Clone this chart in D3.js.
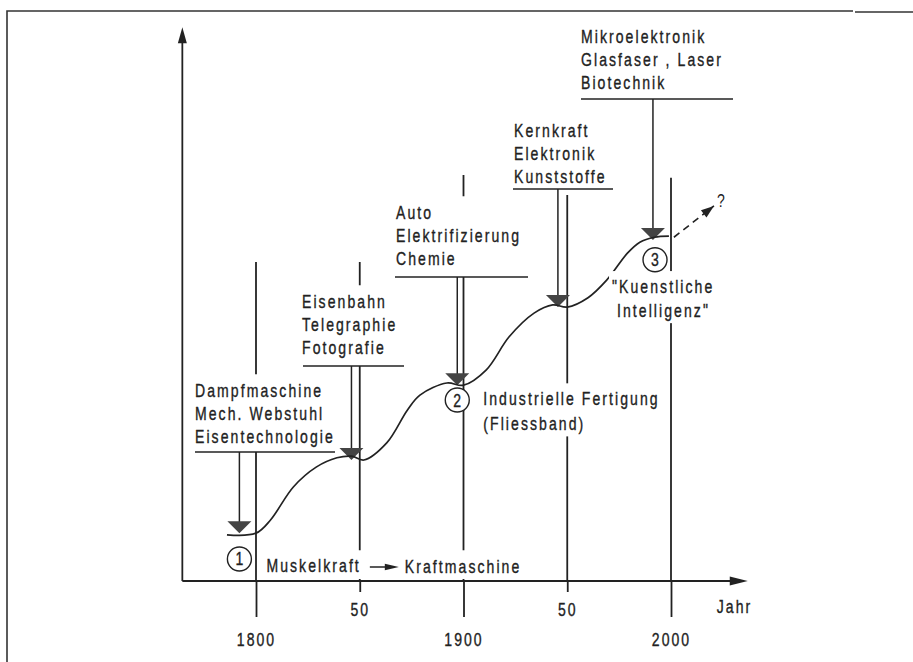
<!DOCTYPE html>
<html>
<head>
<meta charset="utf-8">
<script src="https://cdn.jsdelivr.net/npm/d3@7"></script>
<style>
  body { margin: 0; background: #fff; }
  text { font-family: 'Liberation Sans', Arial, sans-serif; font-size: 18px; letter-spacing: 2.65px; fill: #222; stroke: #222; stroke-width: 0.35px; }
</style>
</head>
<body>
<div id="chart"></div>
<script>
// ---- data ----
// the wave of technical development (year, level 0..100)
const curveYears  = [1786, 1800, 1807, 1818, 1829, 1839, 1846, 1852, 1863, 1873, 1879, 1892, 1900, 1911, 1922, 1934, 1943, 1950, 1960, 1969, 1979, 1985, 1992, 1999];
const curveLevels = [8.4, 8.7, 11.1, 17.1, 20.7, 22.4, 22.7, 22.0, 25.1, 31.1, 33.8, 36.0, 35.6, 38.4, 44.4, 48.7, 50.2, 49.8, 51.5, 54.7, 59.6, 61.6, 62.5, 62.7];

// the outlook (dashed) after 2000
const outlookYears  = [2001.4, 2020.7];
const outlookLevels = [62.5, 68.2];

// innovations pointing onto the curve
const eventYears  = [1792, 1846, 1897, 1945.5, 1991.3];
const eventLevels = [8.7, 22.0, 35.6, 49.8, 62.0];
const eventLabels = [
  ["Dampfmaschine", "Mech. Webstuhl", "Eisentechnologie"],
  ["Eisenbahn", "Telegraphie", "Fotografie"],
  ["Auto", "Elektrifizierung", "Chemie"],
  ["Kernkraft", "Elektronik", "Kunststoffe"],
  ["Mikroelektronik", "Glasfaser , Laser", "Biotechnik"]
];

// numbered phases
const phaseNumbers = ["1", "2", "3"];
const phaseYears   = [1792, 1897, 1992.3];
const phaseLevels  = [4.0, 32.9, 58.4];
const phaseTexts   = [
  ["Muskelkraft", "Kraftmaschine"],
  ["Industrielle Fertigung", "(Fliessband)"],
  ["\"Kuenstliche", "Intelligenz\""]
];

// axis ticks and vertical guide lines
const centuryTicks = [1800, 1900, 2000];
const halfTicks    = [1850, 1950];
const halfLabels   = ["50", "50"];
const gridYears    = [1800, 1850, 1900, 1950, 2000];
const gridTops     = [58.0, 58.0, 73.8, 70.2, 73.3];

// ---- layout (pixels) ----
const W = 913, H = 662;
const ink = "#222";
const SX = 0.78;     // condensed lettering
const lineGap = 23;
const eventLayout = [
  { x: 195, y: 397, under: 452, x1: 195, x2: 335 },
  { x: 302, y: 308, under: 366, x1: 303, x2: 404 },
  { x: 396, y: 219, under: 277, x1: 395, x2: 528 },
  { x: 514, y: 137, under: 189, x1: 513, x2: 613 },
  { x: 581, y: 43,  under: 99,  x1: 581, x2: 733 }
];
const phaseLayout = [
  { dx: 27, dy: 13, gap: 25 },
  { dx: 26, dy: 5,  gap: 25 },
  { dx: -43, dy: 33, gap: 24 }
];

const svg = d3.select("#chart").append("svg")
    .attr("width", W)
    .attr("height", H);

const x = d3.scaleLinear().domain([1800, 2000]).range([256, 671]);
const y = d3.scaleLinear().domain([0, 100]).range([581, 31]);

const axisStartYear = 1764.5, axisEndYear = 2037, axisTopLevel = 100.7;

// place a condensed text at px, py
function put(sel, px, py) {
    return sel.attr("transform", `translate(${px},${py}) scale(${SX},1)`);
}

function arrowHead(g, tx, ty, angle, len, half, fill) {
    const a = angle * Math.PI / 180;
    const bx = tx - len * Math.cos(a), by = ty - len * Math.sin(a);
    const nx = -Math.sin(a) * half, ny = Math.cos(a) * half;
    g.append("path")
        .attr("d", `M${tx},${ty}L${bx + nx},${by + ny}L${bx - nx},${by - ny}Z`)
        .attr("fill", fill || ink);
}

// outer frame
svg.append("path")
    .attr("d", "M7,662V11H853")
    .attr("fill", "none")
    .attr("stroke", "#333")
    .attr("stroke-width", 1.6);
svg.append("line")
    .attr("x1", 855).attr("x2", 913).attr("y1", 12).attr("y2", 12)
    .attr("stroke", "#333").attr("stroke-width", 1.6);

// vertical guide lines above the axis
svg.append("g").selectAll("line")
    .data(gridYears)
    .join("line")
    .attr("x1", d => x(d)).attr("x2", d => x(d))
    .attr("y1", (d, i) => y(gridTops[i]))
    .attr("y2", y(0))
    .attr("stroke", ink)
    .attr("stroke-width", 1.8);

// axis ticks below the axis (long for centuries, short for half centuries)
const centuryAxis = d3.axisBottom(x)
    .tickValues(centuryTicks)
    .tickSize(36)
    .tickPadding(16)
    .tickFormat(d3.format("d"));
const halfAxis = d3.axisBottom(x)
    .tickValues(halfTicks)
    .tickSize(11)
    .tickPadding(11)
    .tickFormat((d, i) => halfLabels[i]);

[centuryAxis, halfAxis].forEach(ax => {
    svg.append("g")
        .attr("transform", `translate(0,${y(0)})`)
        .call(ax)
        .attr("font-family", null)
        .attr("font-size", null)
        .style("color", ink)
        .call(g => g.select(".domain").remove())
        .call(g => g.selectAll(".tick line").attr("stroke-width", 1.8))
        .call(g => g.selectAll(".tick text").each(function () {
            const t = d3.select(this);
            const ty = +t.attr("y");
            t.attr("y", null);
            put(t, 0, ty);
        }));
});

// event labels with white backing, underline, shaft and triangle
const events = eventYears.map((year, i) => Object.assign({
    year: year, level: eventLevels[i], lines: eventLabels[i]
}, eventLayout[i]));

const eventG = svg.append("g").selectAll("g")
    .data(events)
    .join("g");

eventG.each(function (d) {
    const g = d3.select(this);
    const bg = g.append("rect").attr("fill", "#fff");
    const txt = g.append("g");
    txt.selectAll("text")
        .data(d.lines)
        .join("text")
        .each(function (t, j) { put(d3.select(this), d.x, d.y + j * lineGap); })
        .text(t => t);
    const bb = txt.node().getBBox();
    bg.attr("x", Math.min(bb.x, d.x1) - 5)
        .attr("y", bb.y - 6)
        .attr("width", Math.max(bb.x + bb.width, d.x2) - Math.min(bb.x, d.x1) + 10)
        .attr("height", d.under - bb.y + 6);
    g.append("line")
        .attr("x1", d.x1).attr("x2", d.x2)
        .attr("y1", d.under).attr("y2", d.under)
        .attr("stroke", ink).attr("stroke-width", 1.5);
    const tx = x(d.year), ty = y(d.level);
    g.append("line")
        .attr("x1", tx).attr("x2", tx)
        .attr("y1", d.under).attr("y2", ty - 11)
        .attr("stroke", ink).attr("stroke-width", 1.5);
    g.append("path")
        .attr("d", `M${tx},${ty}L${tx - 12},${ty - 12}L${tx + 12},${ty - 12}Z`)
        .attr("fill", "#444");
});

// the curve
const line = d3.line()
    .x(d => x(d[0]))
    .y(d => y(d[1]))
    .curve(d3.curveCatmullRom.alpha(0.5));

svg.append("path")
    .datum(curveYears.map((yr, i) => [yr, curveLevels[i]]))
    .attr("d", line)
    .attr("fill", "none")
    .attr("stroke", ink)
    .attr("stroke-width", 1.7);

// dashed outlook arrow with question mark
const outlook = outlookYears.map((yr, i) => [yr, outlookLevels[i]]);
svg.append("path")
    .datum(outlook)
    .attr("d", d3.line().x(d => x(d[0])).y(d => y(d[1])))
    .attr("fill", "none")
    .attr("stroke", ink)
    .attr("stroke-width", 1.6)
    .attr("stroke-dasharray", "7,5");
{
    const p0 = outlook[0], p1 = outlook[1];
    const ang = Math.atan2(y(p1[1]) - y(p0[1]), x(p1[0]) - x(p0[0])) * 180 / Math.PI;
    arrowHead(svg, x(p1[0]), y(p1[1]), ang, 13, 4.5);
    put(svg.append("text"), x(p1[0]) + 3, y(p1[1]) + 1)
        .style("letter-spacing", "0px")
        .style("stroke-width", "0px")
        .text("?");
}

// numbered phases
phaseNumbers.forEach((num, i) => {
    const cx = x(phaseYears[i]), cy = y(phaseLevels[i]);
    const lay = phaseLayout[i];
    const g = svg.append("g");
    const bg = g.append("rect").attr("fill", "#fff");
    const tg = g.append("g");
    put(tg.append("text"), cx + lay.dx, cy + lay.dy)
        .text(phaseTexts[i][0]);
    if (i === 0) {
        // Muskelkraft -> Kraftmaschine on one row
        const end = tg.node().getBBox();
        const ax0 = end.x + end.width + 9, ax1 = ax0 + 29, ay = cy + lay.dy - 5;
        tg.append("line")
            .attr("x1", ax0).attr("x2", ax1 - 10)
            .attr("y1", ay).attr("y2", ay)
            .attr("stroke", ink).attr("stroke-width", 1.5);
        arrowHead(tg, ax1, ay, 0, 14, 3.2);
        put(tg.append("text"), ax1 + 6, cy + lay.dy + 1)
            .text(phaseTexts[i][1]);
    } else {
        put(tg.append("text"), cx + lay.dx + (i === 2 ? 5 : 0), cy + lay.dy + lay.gap)
            .text(phaseTexts[i][1]);
    }
    const bb = tg.node().getBBox();
    bg.attr("x", bb.x - 3).attr("y", bb.y - 5)
        .attr("width", bb.width + 6)
        .attr("height", Math.min(bb.height + 8, y(0) - 2 - (bb.y - 5)));
    g.append("circle")
        .attr("cx", cx).attr("cy", cy).attr("r", 12)
        .attr("fill", "#fff")
        .attr("stroke", ink)
        .attr("stroke-width", 1.4);
    put(g.append("text"), cx, cy)
        .attr("dy", "0.36em")
        .attr("text-anchor", "middle")
        .style("letter-spacing", "0px")
        .text(num);
});

// main axes with arrow heads
svg.append("line")
    .attr("x1", x(axisStartYear)).attr("x2", x(axisEndYear) - 12)
    .attr("y1", y(0)).attr("y2", y(0))
    .attr("stroke", ink).attr("stroke-width", 1.8);
arrowHead(svg, x(axisEndYear), y(0), 0, 18, 4.5);

svg.append("line")
    .attr("x1", x(axisStartYear)).attr("x2", x(axisStartYear))
    .attr("y1", y(0)).attr("y2", y(axisTopLevel) + 12)
    .attr("stroke", ink).attr("stroke-width", 1.8);
arrowHead(svg, x(axisStartYear), y(axisTopLevel), -90, 16, 4.5);

put(svg.append("text"), x(axisEndYear) - 31, y(0) + 32)
    .text("Jahr");
</script>
</body>
</html>
